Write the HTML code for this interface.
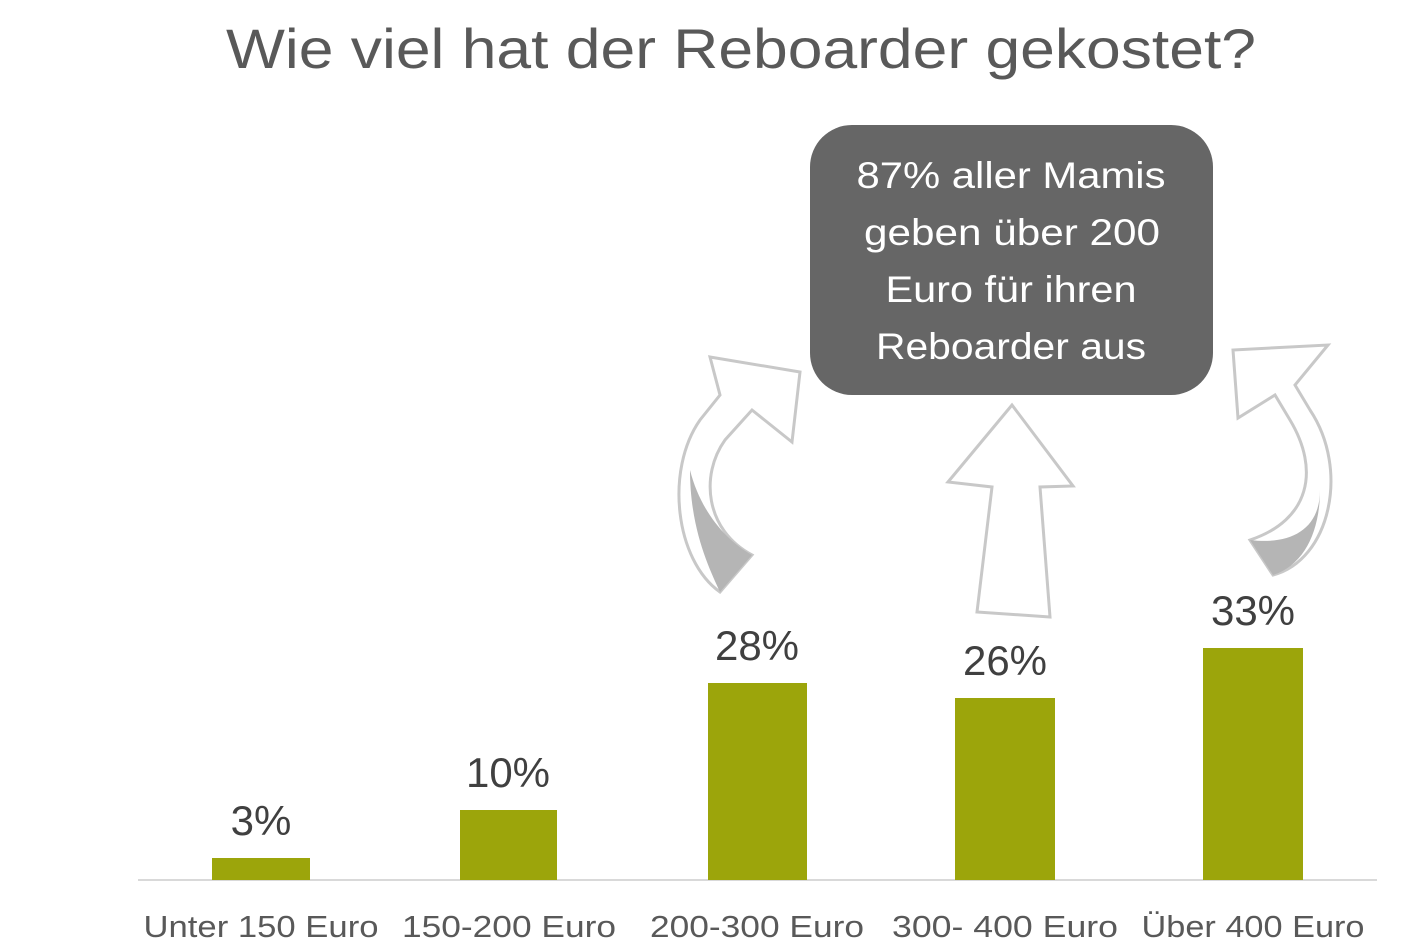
<!DOCTYPE html>
<html><head><meta charset="utf-8"><style>
body{margin:0;background:#fff;}
svg{display:block;font-family:"Liberation Sans",sans-serif;}
</style></head><body>
<svg width="1412" height="943" viewBox="0 0 1412 943">
<text x="741" y="68" font-size="56" fill="#595959" text-anchor="middle" textLength="1030" lengthAdjust="spacingAndGlyphs">Wie viel hat der Reboarder gekostet?</text>
<rect x="810" y="125" width="403" height="270" rx="42" fill="#666"/>
<g fill="#fff" font-size="37" text-anchor="middle">
<text x="1011" y="188" textLength="309" lengthAdjust="spacingAndGlyphs">87% aller Mamis</text>
<text x="1012" y="245" textLength="296" lengthAdjust="spacingAndGlyphs">geben über 200</text>
<text x="1011" y="302" textLength="251" lengthAdjust="spacingAndGlyphs">Euro für ihren</text>
<text x="1011" y="359" textLength="270" lengthAdjust="spacingAndGlyphs">Reboarder aus</text>
</g>
<g stroke="#c8c8c8" stroke-width="3" fill="#fff">
<path d="M720,592 C675,560 665,470 700,420 L720,395 L710,357 L800,372 L792,442 L752,410 L725,440 C700,475 705,530 752,555 Z"/>
<path d="M1273,575 C1330,560 1350,470 1310,410 L1295,385 L1328,345 L1233,350 L1238,418 L1275,395 L1290,420 C1320,470 1310,520 1250,540 Z"/>
<path d="M1012,405 L948,482 L992,487 L977,612 L1050,617 L1040,487 L1073,486 Z"/>
</g>
<path d="M690,470 C690,530 710,570 720,592 L752,555 C725,540 700,510 690,470 Z" fill="#b5b5b5"/>
<path d="M1320,490 C1320,530 1290,545 1250,540 L1273,575 C1305,565 1320,530 1320,490 Z" fill="#b5b5b5"/>
<line x1="138" y1="880" x2="1377" y2="880" stroke="#d9d9d9" stroke-width="2"/>
<g fill="#9ca50b">
<rect x="212" y="858" width="98" height="22"/>
<rect x="460" y="810" width="97" height="70"/>
<rect x="708" y="683" width="99" height="197"/>
<rect x="955" y="698" width="100" height="182"/>
<rect x="1203" y="648" width="100" height="232"/>
</g>
<g fill="#404040" font-size="42" text-anchor="middle">
<text x="261" y="835">3%</text>
<text x="508" y="787">10%</text>
<text x="757" y="660">28%</text>
<text x="1005" y="675">26%</text>
<text x="1253" y="625">33%</text>
</g>
<g fill="#595959" font-size="31" text-anchor="middle">
<text x="261" y="937" textLength="235" lengthAdjust="spacingAndGlyphs">Unter 150 Euro</text>
<text x="509" y="937" textLength="214" lengthAdjust="spacingAndGlyphs">150-200 Euro</text>
<text x="757" y="937" textLength="214" lengthAdjust="spacingAndGlyphs">200-300 Euro</text>
<text x="1005" y="937" textLength="226" lengthAdjust="spacingAndGlyphs">300- 400 Euro</text>
<text x="1253" y="937" textLength="223" lengthAdjust="spacingAndGlyphs">Über 400 Euro</text>
</g>
</svg>
</body></html>
